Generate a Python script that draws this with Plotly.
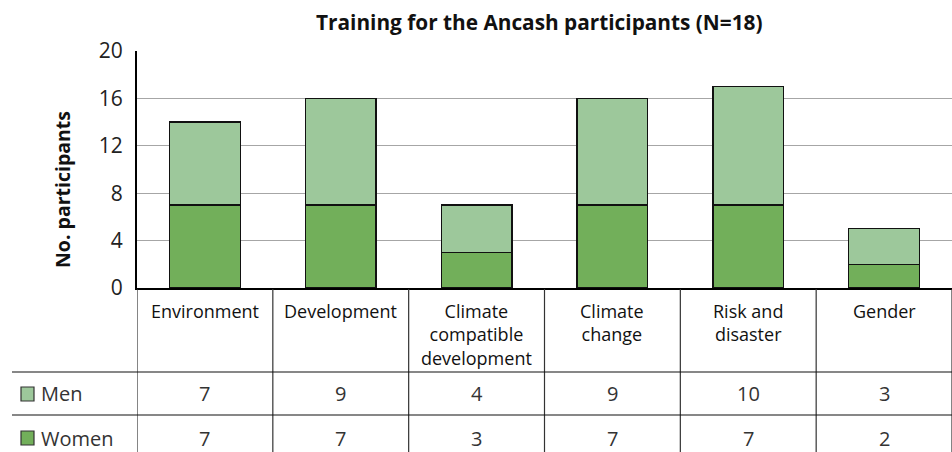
import plotly.graph_objects as go

categories = ["Environment", "Development", "Climate<br>compatible<br>development",
              "Climate<br>change", "Risk and<br>disaster", "Gender"]
men = [7, 9, 4, 9, 10, 3]
women = [7, 7, 3, 7, 7, 2]
series_names = ["Men", "Women"]
y_ticks = [0, 4, 8, 12, 16, 20]
title_text = "Training for the Ancash participants (N=18)"
y_title = "No. participants"

W, H = 952, 452
L, R, T, B = 137, 0, 51, 164
PW = W - L - R
PH = H - T - B

def py(y):  # pixel y -> paper y
    return (H - B - y) / PH

def px(x):  # pixel x -> paper x
    return (x - L) / PW

MEN_C = "#9DC89B"
WOMEN_C = "#72AF5A"
FONT = "Open Sans"
n = len(categories)
xs = list(range(n))

fig = go.Figure()
fig.add_trace(go.Bar(x=xs, y=women, name="Women", marker=dict(color=WOMEN_C, line=dict(color="#111", width=1.3)), width=0.52))
fig.add_trace(go.Bar(x=xs, y=men, name="Men", marker=dict(color=MEN_C, line=dict(color="#111", width=1.3)), width=0.52))

fig.update_layout(
    width=W, height=H, barmode="stack", showlegend=False,
    margin=dict(l=L, r=R, t=T, b=B),
    plot_bgcolor="white", paper_bgcolor="white",
    font=dict(family=FONT, color="#111"),
    xaxis=dict(range=[-0.5, n - 0.5], showticklabels=False, ticks="", showgrid=False,
               showline=True, linecolor="#000", linewidth=2, zeroline=False),
    yaxis=dict(range=[0, 20], tickvals=y_ticks, ticks="", showgrid=True, gridcolor="#A6A6A6",
               gridwidth=1, showline=True, linecolor="#000", linewidth=2, zeroline=False,
               tickfont=dict(size=21, color="#222"), ticklabelstandoff=8),
)

fig.add_annotation(text="<b>" + title_text + "</b>", xref="paper", yref="paper",
                   x=px(539), y=py(22), showarrow=False, font=dict(size=20.8, color="#111"),
                   xanchor="center", yanchor="middle")
fig.add_annotation(text="<b>" + y_title + "</b>", xref="paper", yref="paper",
                   x=px(62), y=py(190), showarrow=False, textangle=-90, font=dict(size=19.5, color="#111"),
                   xanchor="center", yanchor="middle")

# table grid
LINE_C = "#333"
for i in range(n + 1):
    fig.add_shape(type="line", xref="x", yref="paper", x0=i - 0.5, x1=i - 0.5,
                  y0=py(289), y1=py(H + 2), line=dict(color=LINE_C, width=1.2))
for yy in (372, 415):
    fig.add_shape(type="line", xref="paper", yref="paper", x0=px(12), x1=px(W + 2),
                  y0=py(yy), y1=py(yy), line=dict(color="#111", width=1.2))

# category labels
for i, c in enumerate(categories):
    fig.add_annotation(text=c, x=i, xref="x", yref="paper", y=py(297),
                       yanchor="top", xanchor="center", showarrow=False, align="center",
                       font=dict(size=18, color="#111"))

# row labels & values
rows = [(series_names[0], men, MEN_C, 394), (series_names[1], women, WOMEN_C, 438)]
for name, vals, col, yc in rows:
    fig.add_shape(type="rect", xref="paper", yref="paper", x0=px(21), x1=px(34),
                  y0=py(yc + 7), y1=py(yc - 7), fillcolor=col, line=dict(color="#333", width=1.2))
    fig.add_annotation(text=name, xref="paper", yref="paper", x=px(39), y=py(yc),
                       xanchor="left", yanchor="middle", showarrow=False,
                       font=dict(size=20, color="#333"))
    for i, v in enumerate(vals):
        fig.add_annotation(text=str(v), x=i, xref="x", yref="paper", y=py(yc),
                           xanchor="center", yanchor="middle", showarrow=False,
                           font=dict(size=20, color="#333"))

fig.write_html("out.html", config={"displayModeBar": False})
with open("out.html", encoding="utf-8") as f:
    html = f.read()
html = html.replace("<head>", "<head><style>html,body{margin:0;padding:0;overflow:hidden;}</style>", 1)
with open("out.html", "w", encoding="utf-8") as f:
    f.write(html)
